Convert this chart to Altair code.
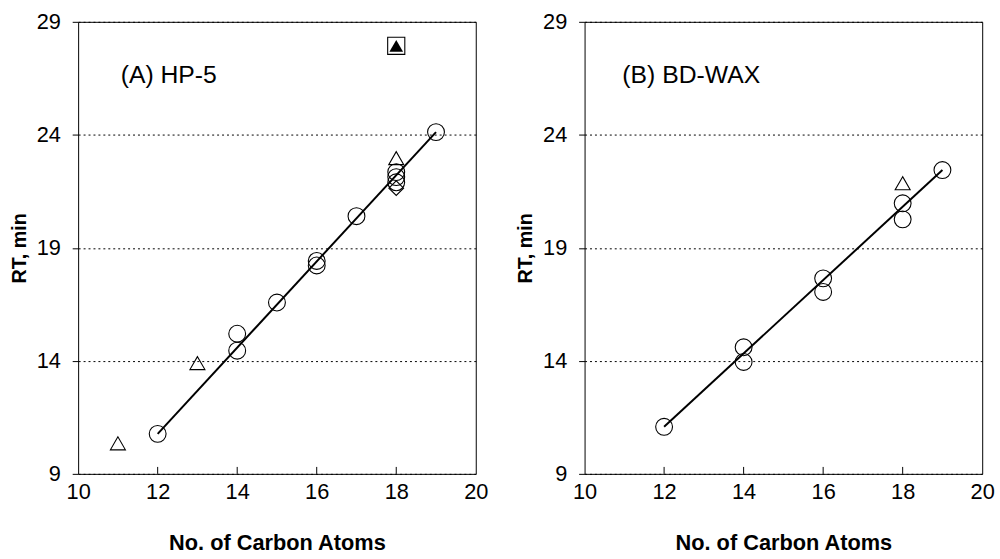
import altair as alt
import pandas as pd

FONT = "Liberation Sans"

# Axis ticks
x_ticks = [10, 12, 14, 16, 18, 20]
x_inner_ticks = [12, 14, 16, 18]
y_ticks = [9, 14, 19, 24, 29]

# (A) HP-5 column
hp5_circle_x = [12, 14, 14, 15, 16, 16, 17, 18, 18, 18, 19]
hp5_circle_y = [10.77, 14.45, 15.2, 16.58, 18.42, 18.22, 20.4, 22.35, 22.13, 21.9, 24.12]
hp5_triangle_x = [11, 13, 18]
hp5_triangle_y = [10.35, 13.9, 22.97]
hp5_diamond_x = [18]
hp5_diamond_y = [21.64]
hp5_square_x = [18]
hp5_square_y = [27.94]
hp5_fit_x = [12, 19]
hp5_fit_y = [10.77, 24.12]

# (B) BD-WAX column
wax_circle_x = [12, 14, 14, 16, 16, 18, 18, 19]
wax_circle_y = [11.08, 14.6, 13.95, 17.65, 17.05, 20.97, 20.26, 22.44]
wax_triangle_x = [18]
wax_triangle_y = [21.86]
wax_fit_x = [12, 19]
wax_fit_y = [11.08, 22.44]

W, H = 402, 457

xscale = alt.Scale(domain=[10, 20], nice=False, zero=False)
yscale = alt.Scale(domain=[9, 29], nice=False, zero=False)

x_axis = alt.Axis(
    values=x_ticks, title="No. of Carbon Atoms", grid=False, domain=False,
    ticks=False, labelPadding=8, labelFontSize=22, labelFont=FONT,
    labelColor="black", titleFont=FONT, titleFontSize=22, titleFontWeight="bold",
    titleColor="black", titlePadding=30, labelFlush=False,
)
y_axis = alt.Axis(
    values=y_ticks, title="RT, min", grid=True, gridColor="black",
    gridDash=[2, 3], gridWidth=1, gridOpacity=1, domain=False,
    tickSize=6, tickColor="black", labelPadding=12, labelFontSize=22,
    labelFont=FONT, labelColor="black", titleFont=FONT, titleFontSize=20,
    titleFontWeight="bold", titleColor="black", titlePadding=7,
)


def pts(xs, ys):
    return pd.DataFrame({"n": xs, "rt": ys})


def symbols(df, shape, size, filled=False):
    if filled:
        m = alt.Chart(df).mark_point(shape=shape, size=size, filled=True,
                                     color="black", opacity=1)
    else:
        m = alt.Chart(df).mark_point(shape=shape, size=size, filled=False,
                                     color="black", strokeWidth=1.1, opacity=1)
    return m.encode(
        x=alt.X("n:Q", scale=xscale, axis=x_axis),
        y=alt.Y("rt:Q", scale=yscale, axis=y_axis),
    )


def panel(circ, tris, label, label_x, fit, extra=None):
    ticks = alt.Chart(pd.DataFrame({"n": x_inner_ticks})).mark_rule(
        color="black", strokeWidth=1
    ).encode(
        x=alt.X("n:Q", scale=xscale, axis=x_axis),
        y=alt.value(H), y2=alt.value(H - 7),
    )
    line = alt.Chart(pts(*fit)).mark_line(color="black", strokeWidth=2).encode(
        x=alt.X("n:Q", scale=xscale, axis=x_axis),
        y=alt.Y("rt:Q", scale=yscale, axis=y_axis),
    )
    text = alt.Chart(pd.DataFrame({"n": [label_x], "rt": [26.65], "t": [label]})).mark_text(
        align="left", baseline="middle", font=FONT, fontSize=25, color="black"
    ).encode(
        x=alt.X("n:Q", scale=xscale, axis=x_axis),
        y=alt.Y("rt:Q", scale=yscale, axis=y_axis),
        text="t:N",
    )
    layers = [ticks, line,
              symbols(pts(*circ), "circle", 290),
              symbols(pts(*tris), "triangle-up", 230)]
    if extra:
        layers += extra
    layers.append(text)
    return alt.layer(*layers).properties(width=W, height=H)


left = panel(
    (hp5_circle_x, hp5_circle_y), (hp5_triangle_x, hp5_triangle_y),
    "(A) HP-5", 11.07, (hp5_fit_x, hp5_fit_y),
    extra=[
        symbols(pts(hp5_diamond_x, hp5_diamond_y), "diamond", 220),
        symbols(pts(hp5_square_x, hp5_square_y), "square", 300),
        symbols(pts(hp5_square_x, hp5_square_y), "triangle-up", 190, filled=True),
    ],
)
right = panel(
    (wax_circle_x, wax_circle_y), (wax_triangle_x, wax_triangle_y),
    "(B) BD-WAX", 10.95, (wax_fit_x, wax_fit_y),
)

chart = alt.hconcat(left, right, spacing=27).properties(
    background="white",
    padding={"left": 9, "top": 7, "right": 5, "bottom": 0},
).configure_view(
    stroke="black", strokeWidth=1
)

chart.save("out.html", embed_options={"renderer": "svg", "actions": False})
